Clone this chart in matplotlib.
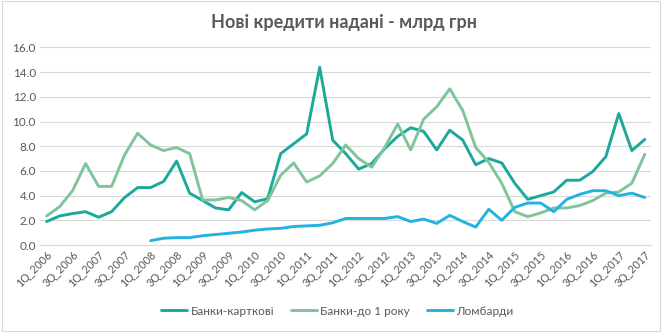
import matplotlib
matplotlib.use("Agg")
import matplotlib.pyplot as plt
import numpy as np

plt.rcParams["font.family"] = ["Lato", "DejaVu Sans"]

# quarters 1Q_2006 .. 3Q_2017
quarters = [f"{q}Q_{y}" for y in range(2006, 2018) for q in range(1, 5)][:47]

kartkovi = [1.9, 2.35, 2.55, 2.7, 2.25, 2.7, 3.85, 4.65, 4.65, 5.15, 6.8, 4.2,
            3.6, 3.0, 2.85, 4.25, 3.5, 3.75, 7.4, 8.2, 9.0, 14.4, 8.5, 7.4,
            6.15, 6.6, 7.8, 8.8, 9.5, 9.2, 7.7, 9.3, 8.5, 6.5, 7.0, 6.65,
            5.0, 3.7, 4.0, 4.3, 5.25, 5.25, 5.95, 7.15, 10.65, 7.65, 8.55]

do_1_roku = [2.35, 3.1, 4.4, 6.6, 4.75, 4.75, 7.3, 9.05, 8.1, 7.65, 7.9, 7.4,
             3.65, 3.65, 3.85, 3.6, 2.85, 3.6, 5.65, 6.65, 5.1, 5.6, 6.6, 8.1,
             7.0, 6.3, 7.9, 9.8, 7.7, 10.2, 11.2, 12.65, 10.9, 7.9, 6.7, 5.0,
             2.7, 2.3, 2.6, 3.0, 3.0, 3.2, 3.6, 4.2, 4.3, 5.0, 7.35]

lombardy = [None] * 8 + [0.35, 0.55, 0.6, 0.6, 0.75, 0.85, 0.95, 1.05, 1.2, 1.3,
                         1.35, 1.5, 1.55, 1.6, 1.8, 2.15, 2.15, 2.15, 2.15, 2.3,
                         1.9, 2.1, 1.75, 2.4, 1.9, 1.45, 2.9, 2.0, 3.05, 3.4,
                         3.4, 2.7, 3.7, 4.1, 4.4, 4.4, 4.0, 4.2, 3.85]

labels = ["Банки-карткові", "Банки-до 1 року", "Ломбарди"]
colors = ["#1ca89a", "#80c49c", "#22b4de"]
GREY = "#595959"

fig = plt.figure(figsize=(6.68, 3.32), dpi=100)
ax = fig.add_axes([0.06, 0.262, 0.915, 0.595])
fig.patches.append(plt.Rectangle((0.003, 0.003), 0.985, 0.994, transform=fig.transFigure,
                                 fill=False, edgecolor="#d9d9d9", lw=0.8))

x = np.arange(len(quarters))
series = [kartkovi, do_1_roku, [np.nan if v is None else v for v in lombardy]]
for vals, lab, c in zip(series, labels, colors):
    ax.plot(x, vals, color=c, lw=2.1, label=lab, solid_capstyle="round")

ax.set_xlim(-0.5, len(quarters) - 0.5)
ax.set_ylim(0, 16)
ax.set_yticks(np.arange(0, 17, 2))
ax.set_yticklabels([f"{v:.1f}" for v in np.arange(0, 17, 2)], color=GREY, fontsize=8.5)
ax.set_xticks(x[::2])
ax.set_xticklabels(quarters[::2], rotation=45, ha="right", rotation_mode="anchor",
                   color=GREY, fontsize=7.8)
ax.tick_params(length=0, pad=3)
ax.grid(axis="y", color="#d9d9d9", lw=0.8)
ax.set_axisbelow(True)
for s in ["top", "right", "left"]:
    ax.spines[s].set_visible(False)
ax.spines["bottom"].set_color("#d9d9d9")

fig.suptitle("Нові кредити надані - млрд грн", x=0.515, y=0.958, fontsize=13,
             fontweight="bold", color=GREY)
fig.legend(loc="center", bbox_to_anchor=(0.505, 0.063), ncol=3, frameon=False,
           fontsize=8.5, labelcolor=GREY, handlelength=2.2, columnspacing=1.4,
           handletextpad=0.3)

fig.savefig("out.png", dpi=100)
